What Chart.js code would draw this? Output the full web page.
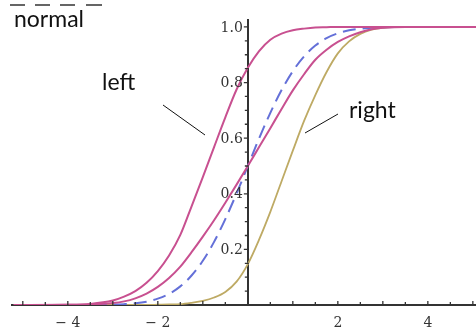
<!DOCTYPE html>
<html>
<head>
<meta charset="utf-8">
<script src="https://cdn.jsdelivr.net/npm/chart.js@4.4.1/dist/chart.umd.min.js"></script>
<style>
  html, body { margin: 0; padding: 0; background: #ffffff; }
  #wrap { width: 476px; height: 334px; position: relative; }
  canvas { display: block; }
</style>
</head>
<body>
<div id="wrap"><canvas id="c" width="476" height="334"></canvas></div>
<script>
// ---- data ----
const xGrid = [-5.2, -4, -3.5, -3, -2.75, -2.5, -2.25, -2, -1.75, -1.5, -1.25, -1, -0.75, -0.5, -0.25,
               0, 0.25, 0.5, 0.75, 1, 1.25, 1.5, 1.75, 2, 2.25, 2.5, 2.75, 3, 3.5, 4, 5.2];

const leftSkew = [0, 0.001, 0.004, 0.016, 0.03, 0.05, 0.08, 0.122, 0.178, 0.252, 0.355, 0.46, 0.568, 0.675, 0.775,
                  0.853, 0.913, 0.954, 0.976, 0.988, 0.994, 0.998, 0.999, 1, 1, 1, 1, 1, 1, 1, 1];

const wideMiddle = [0, 0.0005, 0.002, 0.007, 0.013, 0.024, 0.041, 0.065, 0.097, 0.138, 0.19, 0.246, 0.305, 0.368, 0.433,
                    0.5, 0.568, 0.636, 0.705, 0.772, 0.83, 0.882, 0.918, 0.946, 0.966, 0.981, 0.992, 0.997, 1, 1, 1];

const normalCdf = [0, 0, 0.0002, 0.0013, 0.003, 0.006, 0.012, 0.023, 0.04, 0.067, 0.106, 0.159, 0.227, 0.309, 0.401,
                   0.5, 0.599, 0.691, 0.773, 0.841, 0.894, 0.933, 0.96, 0.977, 0.988, 0.994, 0.997, 0.999, 1, 1, 1];

const rightSkew = [0, 0, 0, 0, 0, 0, 0, 0.001, 0.002, 0.003, 0.008, 0.015, 0.027, 0.047, 0.084,
                   0.147, 0.235, 0.335, 0.445, 0.555, 0.662, 0.755, 0.838, 0.905, 0.948, 0.975, 0.99, 0.997, 1, 1, 1];

const xTickLabels = [-4, -2, 2, 4];
const yTickLabels = [0.2, 0.4, 0.6, 0.8, 1.0];
const xMinorTicks = [-5, -4.5, -4, -3.5, -3, -2.5, -2, -1.5, -1, -0.5, 0.5, 1, 1.5, 2, 2.5, 3, 3.5, 4, 4.5, 5];
const yMinorTicks = [0.05, 0.1, 0.15, 0.2, 0.25, 0.3, 0.35, 0.4, 0.45, 0.5, 0.55, 0.6, 0.65, 0.7, 0.75, 0.8, 0.85, 0.9, 0.95, 1.0];

// ---- styles ----
const MAGENTA = 'rgb(200, 80, 144)';
const OLIVE = 'rgb(190, 170, 100)';
const BLUE = 'rgb(100, 112, 216)';
const AXIS = '#333333';
const LABEL = '#333333';
const TICK_FONT = '14px "DejaVu Serif", serif';

function pts(arr) { return xGrid.map((x, i) => ({ x: x, y: arr[i] })); }

const annotPlugin = {
  id: 'annot',
  afterDraw(chart) {
    const ctx = chart.ctx;
    const xs = chart.scales.x, ys = chart.scales.y;
    const x0 = xs.getPixelForValue(0), y0 = ys.getPixelForValue(0);
    ctx.save();
    ctx.strokeStyle = AXIS;
    ctx.lineWidth = 1.3;
    ctx.beginPath();
    xMinorTicks.forEach(v => {
      const px = xs.getPixelForValue(v);
      const len = Number.isInteger(v) ? 4 : 3;
      ctx.moveTo(px, y0); ctx.lineTo(px, y0 - len);
    });
    yMinorTicks.forEach(v => {
      const py = ys.getPixelForValue(v);
      const major = Math.abs(v * 5 - Math.round(v * 5)) < 1e-6;
      const len = major ? 4 : 3;
      ctx.moveTo(x0 - len, py); ctx.lineTo(x0 + 1, py);
    });
    ctx.stroke();

    // y tick labels, placed through the y scale
    ctx.fillStyle = LABEL;
    ctx.font = TICK_FONT;
    ctx.textAlign = 'right';
    ctx.textBaseline = 'middle';
    yTickLabels.forEach(v => {
      ctx.fillText(v.toFixed(1), x0 - 5, ys.getPixelForValue(v) + 1);
    });

    // annotation text
    ctx.fillStyle = '#111111';
    ctx.font = '23px Lato, "Open Sans", sans-serif';
    ctx.textBaseline = 'alphabetic';
    ctx.textAlign = 'left';
    ctx.fillText('normal', 14, 27);
    ctx.fillText('left', 102, 90);
    ctx.fillText('right', 349, 118);

    // dashes above "normal"
    ctx.strokeStyle = '#333333';
    ctx.lineWidth = 1.5;
    ctx.beginPath();
    [[10, 25], [35, 50], [60, 75], [86, 102]].forEach(s => { ctx.moveTo(s[0], 5); ctx.lineTo(s[1], 5); });
    ctx.stroke();

    // leader lines
    ctx.strokeStyle = '#111111';
    ctx.lineWidth = 1;
    ctx.beginPath();
    ctx.moveTo(163, 105); ctx.lineTo(205, 135);
    ctx.moveTo(338, 114); ctx.lineTo(305, 133);
    ctx.stroke();
    ctx.restore();
  }
};

new Chart(document.getElementById('c'), {
  type: 'line',
  data: {
    datasets: [
      { label: 'left', data: pts(leftSkew), borderColor: MAGENTA, borderWidth: 2, pointRadius: 0, cubicInterpolationMode: 'monotone', fill: false },
      { label: 'wide', data: pts(wideMiddle), borderColor: MAGENTA, borderWidth: 2, pointRadius: 0, cubicInterpolationMode: 'monotone', fill: false },
      { label: 'normal', data: pts(normalCdf), borderColor: BLUE, borderWidth: 2, borderDash: [13, 7], pointRadius: 0, cubicInterpolationMode: 'monotone', fill: false },
      { label: 'right', data: pts(rightSkew), borderColor: OLIVE, borderWidth: 1.8, pointRadius: 0, cubicInterpolationMode: 'monotone', fill: false }
    ]
  },
  options: {
    responsive: false,
    animation: false,
    layout: { padding: { left: 12, top: 20, right: 0, bottom: 0 } },
    plugins: { legend: { display: false }, tooltip: { enabled: false } },
    scales: {
      x: {
        type: 'linear', min: -5.24, max: 5.07, position: 'bottom',
        grid: { display: false },
        border: { display: true, color: AXIS, width: 2 },
        afterBuildTicks: s => { s.ticks = xTickLabels.map(v => ({ value: v })); },
        afterFit: s => { s.height = 29; },
        ticks: {
          autoSkip: false, maxRotation: 0, padding: 2, color: LABEL,
          font: { family: '"DejaVu Serif", serif', size: 14 },
          callback: v => v < 0 ? '\u2212 ' + Math.abs(v) : String(v)
        }
      },
      y: {
        type: 'linear', min: 0, max: 1.025, position: { x: 0 },
        grid: { display: false },
        border: { display: true, color: AXIS, width: 2 },
        afterBuildTicks: s => { s.ticks = yTickLabels.map(v => ({ value: v })); },
        ticks: { display: false }
      }
    }
  },
  plugins: [annotPlugin]
});
</script>
</body>
</html>
